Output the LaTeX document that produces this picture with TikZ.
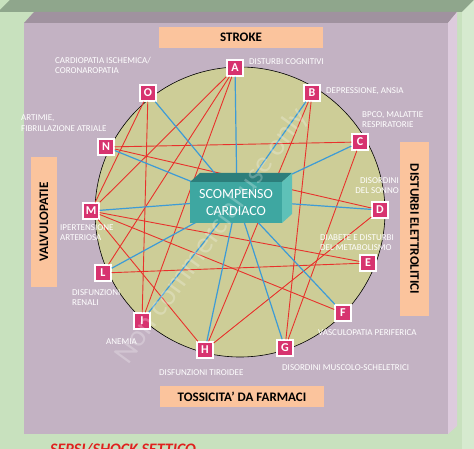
\documentclass[tikz,border=0pt]{standalone}
\usepackage{fontspec}
\setmainfont{Carlito}
\usetikzlibrary{shadows}

\definecolor{grnfront}{HTML}{C8E1BE}
\definecolor{grntop}{HTML}{8FA68C}
\definecolor{grnside}{HTML}{D6EACF}
\definecolor{mvfront}{HTML}{C3B2C3}
\definecolor{mvtop}{HTML}{A0929F}
\definecolor{mvside}{HTML}{DDCBDD}
\definecolor{tagorange}{HTML}{FBC49D}
\definecolor{circfill}{HTML}{CDCD97}
\definecolor{nodepink}{HTML}{D7336F}
\definecolor{linered}{HTML}{E8322C}
\definecolor{lineblue}{HTML}{3D9BD6}
\definecolor{tealfront}{HTML}{3EA7A1}
\definecolor{tealtop}{HTML}{2C7E7B}
\definecolor{tealside}{HTML}{5EC1B8}
\definecolor{sepred}{HTML}{E0201E}

\begin{document}
\begin{tikzpicture}[x=1pt,y=-1pt,
    sq/.style={draw=white, line width=1.5pt, fill=nodepink, minimum size=16pt, inner sep=0pt,
        text=white, font=\fontsize{12}{12}\selectfont\bfseries,
        drop shadow={opacity=0.3, shadow xshift=1pt, shadow yshift=-1pt}},
    lab/.style={text=white, font=\fontsize{9}{10.5}\selectfont, align=left, inner sep=0pt},
    tag/.style={fill=tagorange, font=\fontsize{13}{13}\selectfont\bfseries, inner sep=0pt},
    redln/.style={draw=linered, line width=0.9pt},
    blueln/.style={draw=lineblue, line width=1.2pt}]
    \useasboundingbox (0,0) rectangle (474,449);
    \clip (0,0) rectangle (474,449);

    \fill[grnfront] (0,0) rectangle (474,449);
    \fill[grntop] (0,10) -- (10,0) -- (474,0) -- (462,12) -- (0,12) -- cycle;
    \fill[grnside] (462,12) -- (474,0) -- (474,449) -- (462,449) -- cycle;

    \fill[mvtop] (24,23) -- (34,12) -- (457,12) -- (448,23) -- cycle;
    \fill[mvside] (448,23) -- (457,12) -- (457,426) -- (448,434) -- cycle;
    \fill[mvfront] (24,23) rectangle (448,434);

    \node[tag, minimum width=164pt, minimum height=21pt] (stroke) at (241,37.5) {STROKE};
    \node[tag, minimum width=164pt, minimum height=21pt] (tox) at (242,396.5) {TOSSICITA’ DA FARMACI};
    \node[tag, minimum width=130pt, minimum height=26pt, rotate=90] (valv) at (44,222) {VALVULOPATIE};
    \node[tag, minimum width=174pt, minimum height=29pt, rotate=-90] (elet) at (414.5,229) {DISTURBI ELETTROLITICI};

    \draw[fill=circfill, line width=0.6pt] (240,212) circle (145pt);

    \node[sq] (A) at (235,68) {A};
    \node[sq] (B) at (312,93) {B};
    \node[sq] (C) at (360,142) {C};
    \node[sq] (D) at (380,210) {D};
    \node[sq] (E) at (368,263) {E};
    \node[sq] (F) at (343,313) {F};
    \node[sq] (G) at (285,348) {G};
    \node[sq] (H) at (205,350) {H};
    \node[sq] (I) at (142,321) {I};
    \node[sq] (L) at (103,273) {L};
    \node[sq] (M) at (91,211) {M};
    \node[sq] (N) at (106,147) {N};
    \node[sq] (O) at (148,93) {O};

    \coordinate (hf) at (237,200);

    \foreach \a/\b in {A/M, A/L, A/I, O/M, O/I, N/C, N/D, M/E, M/F, M/H, L/E, B/H, B/G, C/G, D/H}
        \draw[redln] (\a) -- (\b);
    \foreach \a in {A,B,C,D,F,G,H,I,L,M,N,O}
        \draw[blueln] (\a) -- (hf);

    \fill[tealtop] (190,182) -- (200,173) -- (292,173) -- (282,182) -- cycle;
    \fill[tealside] (282,182) -- (292,173) -- (292,214) -- (282,223) -- cycle;
    \node[fill=tealfront, minimum width=92pt, minimum height=41pt, inner sep=0pt, text=white,
        align=center, font=\fontsize{14}{17}\selectfont] (scbox) at (236,202.5) {SCOMPENSO\\CARDIACO};

    \node[lab, anchor=north west] (lO) at (55,57) {CARDIOPATIA ISCHEMICA/\\CORONAROPATIA};
    \node[lab, anchor=north west] (lA) at (249,58) {DISTURBI COGNITIVI};
    \node[lab, anchor=north west] (lB) at (326,87) {DEPRESSIONE, ANSIA};
    \node[lab, anchor=north west] (lC) at (362,111) {BPCO, MALATTIE\\RESPIRATORIE};
    \node[lab, anchor=north west] (lN) at (21,115) {ARTIMIE,\\FIBRILLAZIONE ATRIALE};
    \node[lab, anchor=north east, align=right] (lD) at (399,177) {DISORDINI\\DEL SONNO};
    \node[lab, anchor=north west] (lE) at (320,234) {DIABETE E DISTURBI\\DEL METABOLISMO};
    \node[lab, anchor=north west] (lM) at (60,224) {IPERTENSIONE\\ARTERIOSA};
    \node[lab, anchor=north west] (lL) at (72,289) {DISFUNZIONI\\RENALI};
    \node[lab, anchor=north west] (lI) at (106,339) {ANEMIA};
    \node[lab, anchor=north west] (lH) at (159,369) {DISFUNZIONI TIROIDEE};
    \node[lab, anchor=north west] (lG) at (282,364) {DISORDINI MUSCOLO-SCHELETRICI};
    \node[lab, anchor=north west] (lF) at (318,329) {VASCULOPATIA PERIFERICA};

    \node[text=white, opacity=0.25, rotate=54, font=\fontsize{30}{30}\selectfont] (wm) at (212,236) {Non commercial use only};

    \node[anchor=base west, inner sep=0pt, text=sepred, font=\fontsize{16}{16}\selectfont\bfseries\itshape] (sepsi) at (50,454) {SEPSI/SHOCK SETTICO};
\end{tikzpicture}
\end{document}
